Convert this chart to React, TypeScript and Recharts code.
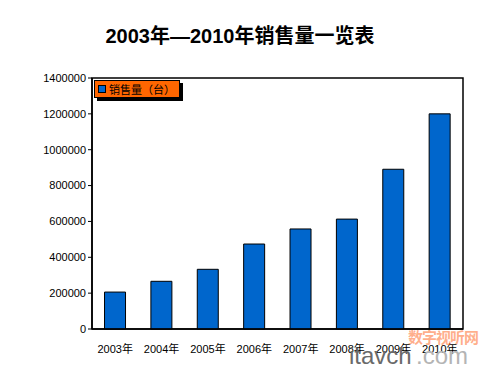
import React from "react";
import { BarChart, Bar, XAxis, YAxis, ReferenceArea } from "recharts";

const years = ["2003年", "2004年", "2005年", "2006年", "2007年", "2008年", "2009年", "2010年"];
const sales = [206000, 266000, 333000, 474000, 558000, 613000, 891000, 1200000];
const yTicks = [0, 200000, 400000, 600000, 800000, 1000000, 1200000, 1400000];
const seriesName = "销售量（台）";
const title = "2003年—2010年销售量一览表";

const data = years.map((y, i) => ({ year: y, value: sales[i] }));

const font = '"Liberation Sans", Arial, "Noto Sans CJK SC", sans-serif';

const LegendBox = () => (
  <div style={{ position: "absolute", left: 94, top: 80, width: 90, height: 22 }}>
    <div style={{ position: "absolute", left: 3, top: 3, width: 86, height: 18, background: "#000" }} />
    <div
      style={{
        position: "absolute",
        left: 0,
        top: 0,
        width: 84,
        height: 16,
        background: "#FF6600",
        border: "1px solid #000",
        display: "flex",
        alignItems: "center",
        fontFamily: font,
        fontSize: 11,
        color: "#000",
        whiteSpace: "nowrap",
      }}
    >
      <span style={{ display: "inline-block", width: 6, height: 6, background: "#0066CC", border: "1px solid #000", margin: "0 3px 0 3px" }} />
      {seriesName}
    </div>
  </div>
);

export default function App() {
  return (
    <div style={{ position: "absolute", left: 0, top: 0, width: 500, height: 375, background: "#fff", overflow: "hidden" }}>
      <div
        style={{
          position: "absolute",
          left: 0,
          top: 20,
          width: 480,
          textAlign: "center",
          fontFamily: font,
          fontWeight: "bold",
          fontSize: 20,
          color: "#000",
        }}
      >
        {title}
      </div>
      <BarChart width={500} height={375} data={data} margin={{ top: 78, right: 37, bottom: 0, left: 0 }} barCategoryGap="27%">
        <XAxis
          dataKey="year"
          height={46}
          tickLine={false}
          axisLine={{ stroke: "#000", strokeWidth: 1.5 }}
          tick={{ fill: "#000", fontSize: 11, fontFamily: font }}
          tickMargin={10}
          interval={0}
        />
        <YAxis
          width={92}
          domain={[0, 1400000]}
          ticks={yTicks}
          interval={0}
          tickSize={4}
          tickLine={{ stroke: "#000" }}
          axisLine={{ stroke: "#000", strokeWidth: 1.5 }}
          tick={{ fill: "#000", fontSize: 11, fontFamily: font }}
          tickMargin={2}
        />
        <ReferenceArea y1={0} y2={1400000} fill="none" stroke="#000" strokeWidth={1.5} ifOverflow="visible" />
        <Bar dataKey="value" name={seriesName} fill="#0066CC" stroke="#000" strokeWidth={1} isAnimationActive={false} />
      </BarChart>
      <LegendBox />
      <div style={{ position: "absolute", left: 408, top: 326, whiteSpace: "nowrap", fontFamily: '"Noto Sans CJK SC", sans-serif', fontSize: 15, fontWeight: "bold", color: "rgba(255,120,60,0.6)", letterSpacing: -1 }}>
        数字视听网
      </div>
      <div style={{ position: "absolute", left: 349, top: 342, whiteSpace: "nowrap", fontFamily: font, fontSize: 24, color: "#6a6a6a" }}>
        itavch
      </div>
      <div style={{ position: "absolute", left: 416, top: 342, whiteSpace: "nowrap", fontFamily: font, fontSize: 24, color: "#b4b4b4" }}>
        .com
      </div>
    </div>
  );
}
